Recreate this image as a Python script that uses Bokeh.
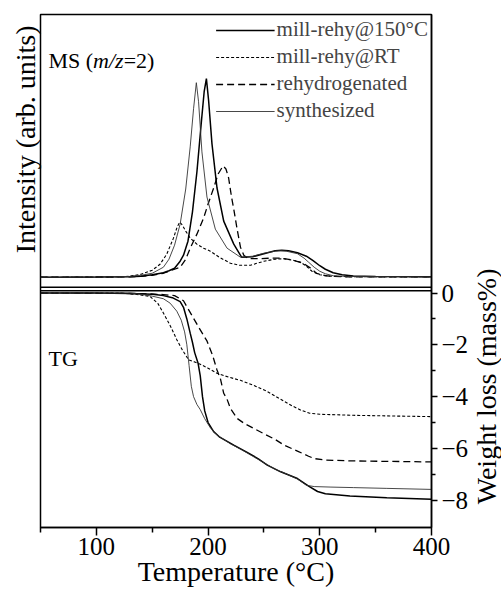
import math
from bokeh.plotting import figure
from bokeh.models import FixedTicker, Range1d, Legend, LegendItem, Span, Title
from bokeh.layouts import row
from bokeh.embed import file_html
from bokeh.resources import INLINE
from bokeh.core.properties import value

FONT = "Liberation Serif"

series_names = ["mill-rehy@150\u00b0C", "mill-rehy@RT", "rehydrogenated", "synthesized"]

# ---- MS (m/z=2) intensity, arb. units ----
ms150_T = [50, 100, 130, 140, 150, 160, 165, 170, 175, 178, 182, 186, 190, 194, 196.5, 198.5, 200.5, 203.5, 208, 214,
           223, 230, 240, 250, 260, 266, 272, 280, 288, 294, 300, 305, 312, 320, 330, 350, 400]
ms150_I = [0.0, 0.02, 0.05, 0.1, 0.25, 0.45, 0.65, 0.9, 1.6, 2.2, 3.6, 6.5, 10.5, 15.5, 18.5, 19.8, 17.6, 13.3, 8.9, 5.6,
           3.3, 2.0, 2.05, 2.35, 2.65, 2.7, 2.65, 2.45, 2.1, 1.65, 1.15, 0.8, 0.45, 0.25, 0.12, 0.07, 0.05]

msrt_T = [50, 100, 120, 130, 140, 150, 157, 163, 169, 172, 174.5, 177, 180, 184, 190, 196, 202, 210, 220, 228,
          238, 250, 260, 268, 276, 283, 288, 293, 300, 310, 330, 400]
msrt_I = [0.0, 0.02, 0.05, 0.1, 0.3, 0.7, 1.3, 2.3, 3.9, 4.9, 5.5, 5.2, 4.6, 3.9, 3.3, 2.9, 2.6, 2.0, 1.4, 1.2,
          1.2, 1.6, 1.8, 1.85, 1.7, 1.5, 1.1, 0.6, 0.25, 0.1, 0.05, 0.05]

msreh_T = [50, 100, 130, 140, 150, 160, 170, 175, 180, 184, 190, 196, 200, 205, 209, 213.4, 216, 218.4, 221, 223,
           226, 229, 232, 236, 245, 255, 265, 275, 285, 292, 297, 305, 320, 400]
msreh_I = [0.0, 0.02, 0.05, 0.1, 0.2, 0.4, 0.8, 1.0, 1.8, 2.9, 4.3, 5.9, 7.3, 8.9, 10.3, 11.1, 10.8, 9.9, 8.0, 6.8,
           4.8, 3.0, 2.2, 1.85, 1.85, 1.9, 1.9, 1.75, 1.4, 0.9, 0.4, 0.15, 0.05, 0.05]

mssyn_T = [50, 100, 130, 140, 150, 160, 165, 170, 175, 180, 184, 187, 189.5, 191.5, 194.5, 199, 206.5, 217, 229, 240,
           250, 260, 265, 270, 280, 286, 290, 295, 300, 305, 312, 325, 400]
mssyn_I = [0.0, 0.02, 0.08, 0.2, 0.4, 1.0, 1.8, 3.2, 5.3, 8.8, 13.0, 16.8, 19.4, 17.5, 12.5, 8.0, 4.8, 2.9, 2.0, 2.1,
           2.4, 2.6, 2.65, 2.6, 2.35, 1.9, 1.5, 1.0, 0.6, 0.35, 0.15, 0.08, 0.05]

# ---- TG weight loss, mass% ----
tg150_T = [50, 100, 130, 150, 160, 168, 175, 178, 181, 184, 186, 188, 191, 193, 195, 197, 200, 205, 210, 223,
           235, 245, 253, 265, 280, 290, 298, 305, 327, 360, 400]
tg150_W = [0, 0, -0.02, -0.05, -0.1, -0.18, -0.33, -0.55, -1.0, -1.55, -1.9, -2.3, -2.7, -3.2, -4.0, -4.55, -5.0, -5.35, -5.55, -5.87,
           -6.15, -6.4, -6.64, -6.9, -7.16, -7.45, -7.66, -7.75, -7.83, -7.9, -7.96]

tgrt_T = [50, 120, 135, 148, 155, 160, 166, 172, 177, 182.6, 188, 193, 200, 208, 215, 223, 229, 240, 253, 265,
          275, 283, 291, 300, 330, 370, 400]
tgrt_W = [0, 0, -0.05, -0.13, -0.4, -0.77, -1.25, -1.8, -2.2, -2.58, -2.66, -2.75, -2.9, -3.1, -3.2, -3.3, -3.37, -3.55, -3.8, -4.1,
          -4.35, -4.52, -4.64, -4.68, -4.72, -4.75, -4.77]

tgreh_T = [50, 140, 160, 170, 178, 186, 192, 199, 204, 208, 211, 214, 217, 220, 226, 233, 241, 250, 260, 268,
           280, 290, 295, 305, 330, 400]
tgreh_W = [0, -0.02, -0.06, -0.1, -0.3, -0.9, -1.35, -1.85, -2.4, -2.97, -3.3, -3.87, -4.1, -4.45, -4.84, -5.05, -5.23, -5.43, -5.65, -5.87,
           -6.1, -6.3, -6.39, -6.45, -6.48, -6.52]

tgsyn_T = [50, 130, 140, 150, 160, 166, 172, 176, 179, 181, 183, 185, 187, 190, 193, 197, 202, 208, 220, 230,
           240, 250, 260, 270, 280, 288, 295, 310, 330, 360, 400]
tgsyn_W = [0, 0, -0.05, -0.12, -0.22, -0.39, -0.7, -1.05, -1.5, -2.0, -2.8, -3.6, -4.0, -4.3, -4.5, -4.85, -5.2, -5.48, -5.82, -6.05,
           -6.3, -6.55, -6.8, -6.98, -7.18, -7.42, -7.47, -7.49, -7.51, -7.54, -7.58]

x_ticks = [100, 200, 300, 400]
x_minor = [50, 150, 250, 350]
w_ticks = [0, -2, -4, -6, -8]
w_minor = [-1, -3, -5, -7]

styles = [
    dict(line_color="black", line_width=1.5),
    dict(line_color="black", line_width=1.1, line_dash="3 2"),
    dict(line_color="black", line_width=1.3, line_dash="7 4"),
    dict(line_color="#333333", line_width=0.9),
]

# one frame holds both stacked panels: TG (weight) on the default range, MS on an extra range
p = figure(width=471, height=589, x_range=Range1d(50, 400), y_range=Range1d(-9.05, 10.75),
           output_backend="svg", toolbar_location=None, y_axis_location="right",
           min_border_left=40, min_border_right=39, min_border_top=14, min_border_bottom=0)
p.extra_y_ranges = {"ms": Range1d(-24.95, 26.2)}
p.grid.visible = False
p.outline_line_color = "black"
p.outline_line_width = 1.5

xa = p.xaxis[0]
xa.axis_label = "Temperature (\u00b0C)"
xa.ticker = FixedTicker(ticks=x_ticks, minor_ticks=x_minor)
xa.major_tick_out = 8
xa.major_tick_in = 0
xa.minor_tick_out = 5
xa.minor_tick_in = 0
xa.major_label_standoff = 2
xa.axis_label_standoff = -2

ra = p.yaxis[0]
ra.ticker = FixedTicker(ticks=w_ticks, minor_ticks=w_minor)
ra.major_tick_out = 6
ra.major_tick_in = 0
ra.minor_tick_out = 4
ra.minor_tick_in = 0
ra.major_label_standoff = 4

for ax in (xa, ra):
    ax.axis_label_text_font = FONT
    ax.axis_label_text_font_style = "normal"
    ax.axis_label_text_font_size = "28px"
    ax.axis_label_text_color = "black"
    ax.major_label_text_font = FONT
    ax.major_label_text_font_size = "25px"
    ax.major_label_text_color = "black"
    ax.axis_line_color = "black"
    ax.axis_line_width = 1.5
    ax.major_tick_line_width = 1.5
    ax.minor_tick_line_width = 1.5

# left title for the MS panel, anchored near the top of the frame
p.add_layout(Title(text="Intensity (arb. units)", align="right", offset=11, standoff=0,
                   text_font=FONT, text_font_size="28px", text_font_style="normal",
                   text_color="black"), "left")

# panel edges (double line between the two panels)
p.add_layout(Span(location=-1.0, dimension="width", y_range_name="ms", line_color="black", line_width=1.5))
p.add_layout(Span(location=0.085, dimension="width", line_color="black", line_width=1.5))

# MS curves
ms_sets = [(ms150_T, ms150_I), (msrt_T, msrt_I), (msreh_T, msreh_I), (mssyn_T, mssyn_I)]
items = []
for name, (tx, iy), st in zip(series_names, ms_sets, styles):
    r = p.line(tx, iy, y_range_name="ms", **st)
    items.append(LegendItem(label=name, renderers=[r]))

# TG curves
tg_sets = [(tg150_T, tg150_W), (tgrt_T, tgrt_W), (tgreh_T, tgreh_W), (tgsyn_T, tgsyn_W)]
for (tx, wy), st in zip(tg_sets, styles):
    p.line(tx, wy, **st)

leg = Legend(items=items, location="top_right", margin=0, padding=3, spacing=2,
             glyph_width=59, glyph_height=20, label_height=20, label_standoff=2,
             label_text_font=FONT, label_text_font_size="21px",
             border_line_alpha=0, background_fill_alpha=0)
p.add_layout(leg)

ms_parts = ["MS (", "m/z", "=2)"]
ms_styles = ["normal", "italic", "normal"]
ms_off = [8, 52.6, 83.2]
for t, s, o in zip(ms_parts, ms_styles, ms_off):
    p.text(x=[50], y=[21.6], y_range_name="ms", text=[t], x_offset=o, text_font=value(FONT),
           text_font_size="22px", text_font_style=s, text_baseline="alphabetic", text_align="left",
           text_color="black")

p.text(x=[50], y=[-2.52], text=["TG"], x_offset=8, text_font=value(FONT), text_font_size="22px",
       text_baseline="alphabetic", text_align="left", text_color="black")

# narrow strip on the right carrying the TG axis title (reads bottom-to-top)
q = figure(width=30, height=589, x_range=Range1d(0, 30), y_range=Range1d(0, 589),
           output_backend="svg", toolbar_location=None, x_axis_location=None, y_axis_location=None,
           min_border_left=0, min_border_right=0, min_border_top=0, min_border_bottom=0)
q.grid.visible = False
q.outline_line_color = None
q.text(x=[15], y=[162], text=["Weight loss (mass%)"], angle=math.pi / 2, text_font=value(FONT),
       text_font_size="28px", text_align="center", text_baseline="middle", text_color="black")

layout = row(p, q, spacing=0)
open("out.html", "w").write(file_html(layout, INLINE))
